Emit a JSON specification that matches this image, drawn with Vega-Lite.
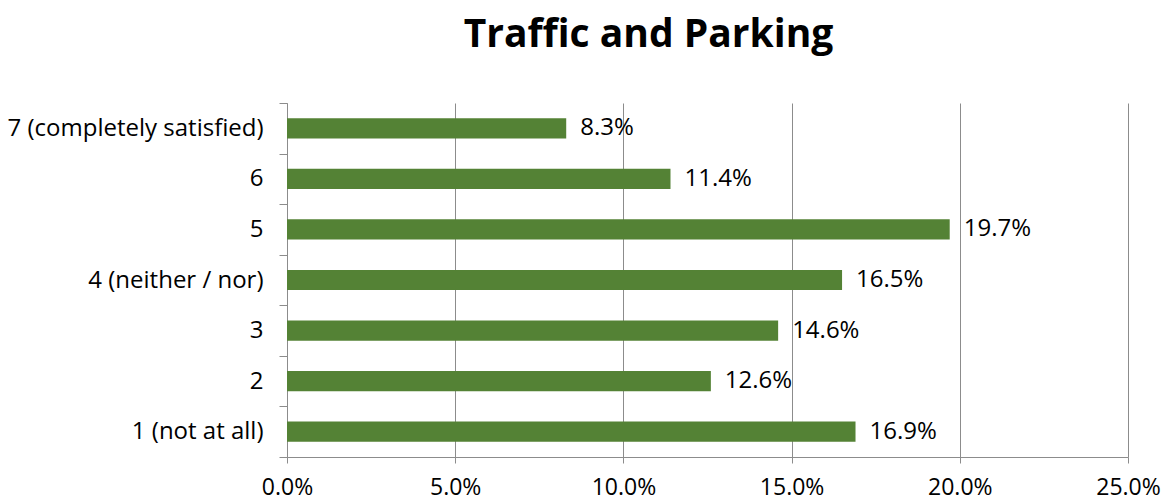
{
  "$schema": "https://vega.github.io/schema/vega-lite/v6.json",
  "width": 841,
  "height": 354,
  "autosize": {"type": "none"},
  "padding": {"left": 287, "top": 103, "right": 41, "bottom": 45},
  "background": "white",
  "title": {"text": "Traffic and Parking", "anchor": "middle", "frame": "group", "dx": -59, "offset": 5, "baseline": "alphabetic", "font": "Open Sans", "fontSize": 39, "fontWeight": "bold", "color": "#000000"},
  "data": {"values": [
    {"category": "7 (completely satisfied)", "pct": 0.083},
    {"category": "6", "pct": 0.114},
    {"category": "5", "pct": 0.197},
    {"category": "4 (neither / nor)", "pct": 0.165},
    {"category": "3", "pct": 0.146},
    {"category": "2", "pct": 0.126},
    {"category": "1 (not at all)", "pct": 0.169}
  ]},
  "config": {"view": {"stroke": null}},
  "encoding": {
    "y": {"field": "category", "type": "nominal", "sort": null,
      "scale": {"paddingInner": 0, "paddingOuter": 0},
      "axis": {"title": null, "tickBand": "extent", "tickSize": 8, "tickColor": "#8c8c8c", "domainColor": "#8c8c8c", "labelFont": "Open Sans", "labelFontSize": 24, "labelColor": "#000000", "labelPadding": 16, "labelLimit": 0, "grid": false}},
    "x": {"field": "pct", "type": "quantitative",
      "scale": {"domain": [0, 0.25], "nice": false},
      "axis": {"title": null, "format": ".1%", "values": [0, 0.05, 0.1, 0.15, 0.2, 0.25], "tickSize": 6, "tickColor": "#8c8c8c", "domainColor": "#8c8c8c", "grid": true, "gridColor": "#8c8c8c", "gridOpacity": 1, "labelFont": "Open Sans", "labelFontSize": 23, "labelColor": "#000000", "labelPadding": 13, "labelFlush": false}}
  },
  "layer": [
    {"mark": {"type": "bar", "color": "#548235", "height": {"band": 0.4}}},
    {"mark": {"type": "text", "align": "left", "baseline": "middle", "dx": 14, "font": "Open Sans", "fontSize": 24, "color": "#000000"},
     "encoding": {"text": {"field": "pct", "type": "quantitative", "format": ".1%"}}}
  ]
}
